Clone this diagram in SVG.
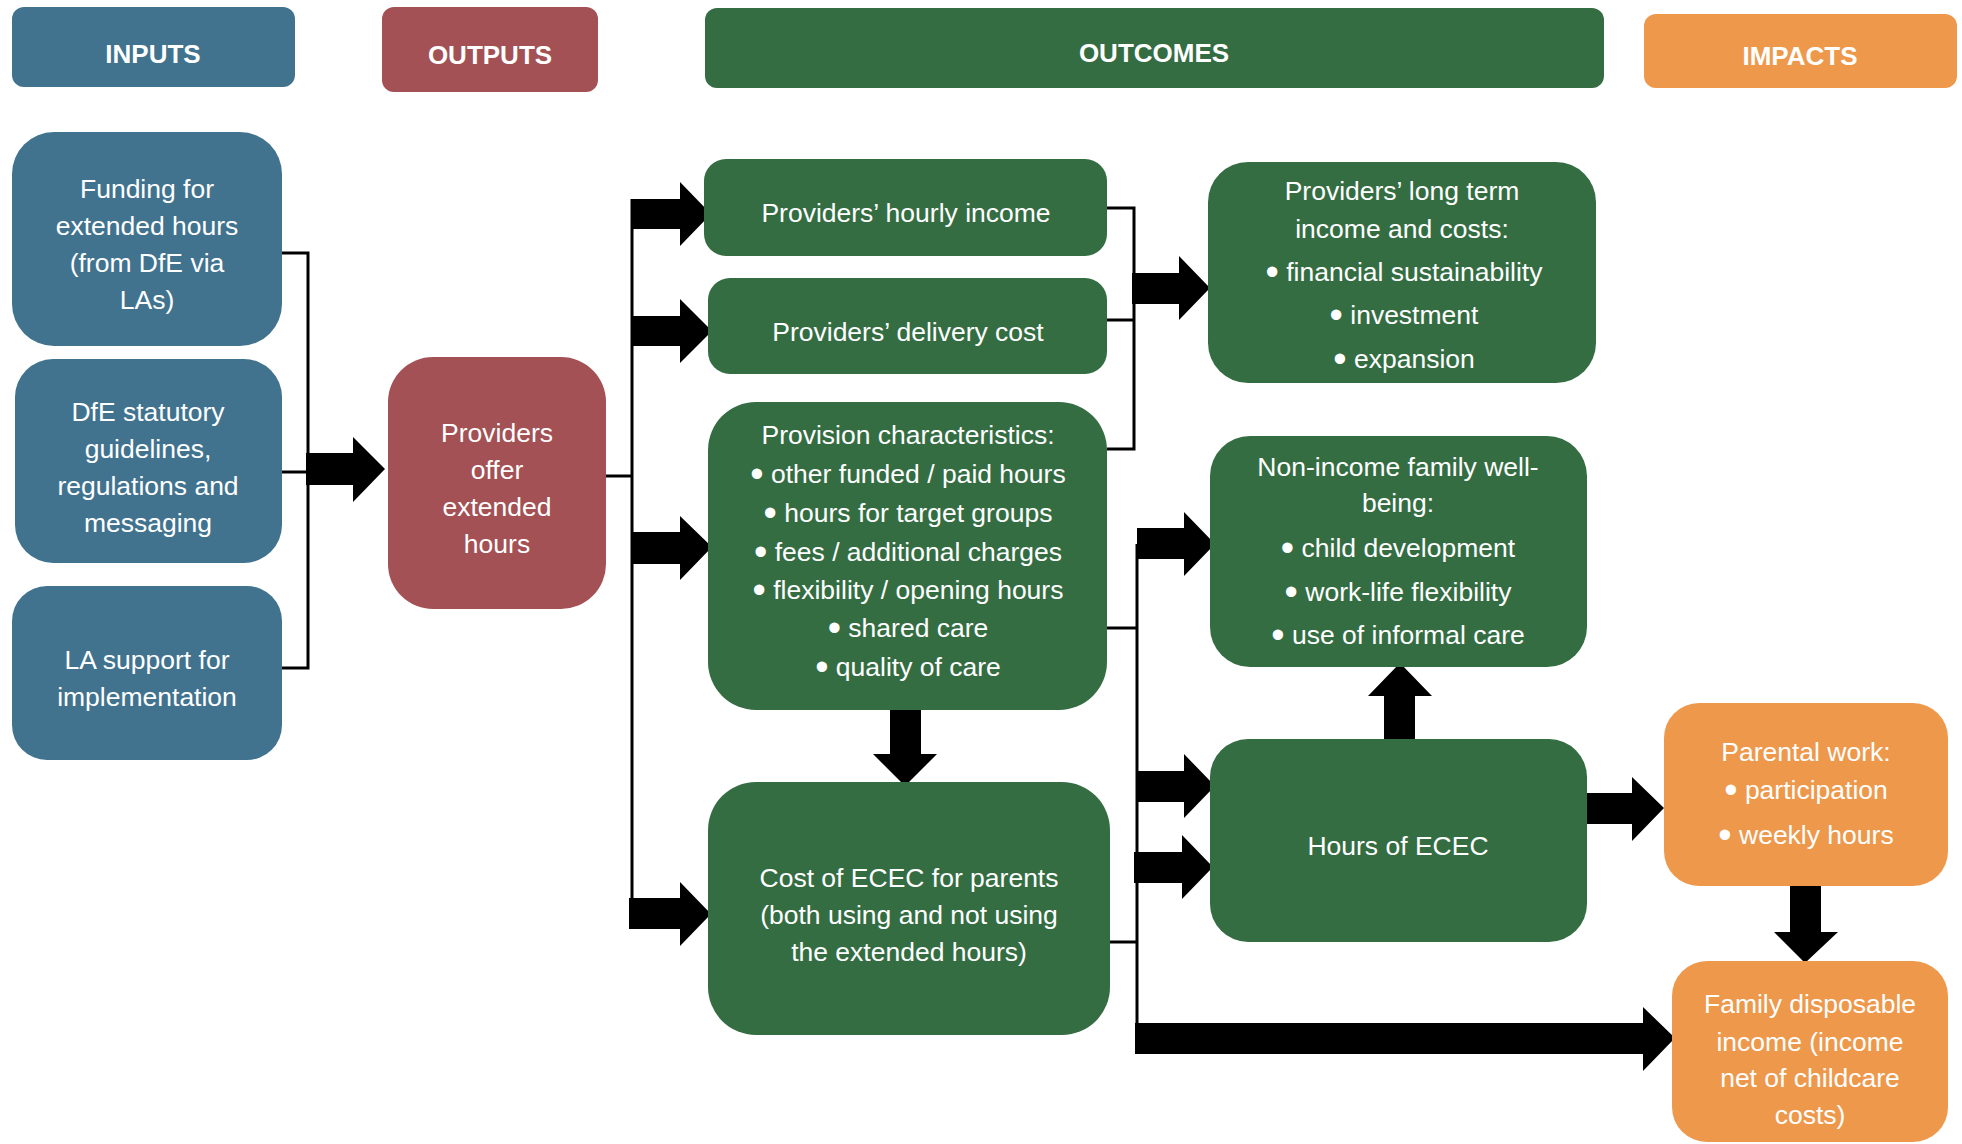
<svg xmlns="http://www.w3.org/2000/svg" width="1962" height="1144" viewBox="0 0 1962 1144">
<style>
.t{font-family:"Liberation Sans",Arial,sans-serif;font-size:26.5px;fill:#ffffff;text-anchor:middle}
.b{font-size:38px}
.h{font-family:"Liberation Sans",Arial,sans-serif;font-size:26px;font-weight:bold;fill:#ffffff;text-anchor:middle}
.blue{fill:#41738F}
.red{fill:#A35154}
.green{fill:#356D43}
.orange{fill:#EE984B}
.ln{stroke:#000;stroke-width:3;fill:none}
.ar{fill:#000}
</style>
<rect width="1962" height="1144" fill="#ffffff"/>
<g id="header-inputs"><rect class="blue" x="12" y="7" width="283" height="80" rx="12"/><text class="h" x="153" y="63">INPUTS</text></g>
<g id="header-outputs"><rect class="red" x="382" y="7" width="216" height="85" rx="12"/><text class="h" x="490" y="64">OUTPUTS</text></g>
<g id="header-outcomes"><rect class="green" x="705" y="8" width="899" height="80" rx="12"/><text class="h" x="1154" y="62">OUTCOMES</text></g>
<g id="header-impacts"><rect class="orange" x="1644" y="14" width="313" height="74" rx="12"/><text class="h" x="1800" y="65">IMPACTS</text></g>

<g id="connectors">
<polyline class="ln" points="282,253 308,253 308,668 282,668"/>
<line class="ln" x1="282" y1="472" x2="308" y2="472"/>
<line class="ln" x1="606" y1="476" x2="632" y2="476"/>
<line class="ln" x1="632" y1="199" x2="632" y2="929"/>
<polyline class="ln" points="1107,208 1134,208 1134,449 1107,449"/>
<line class="ln" x1="1107" y1="320" x2="1134" y2="320"/>
<line class="ln" x1="1137" y1="544" x2="1137" y2="1054"/>
<line class="ln" x1="1107" y1="628" x2="1137" y2="628"/>
<line class="ln" x1="1110" y1="942" x2="1137" y2="942"/>
<polygon class="ar" points="306,453 353,453 353,437 385,469 353,502 353,485 306,485"/>
<polygon class="ar" points="632,199 680,199 680,182 711,214 680,246 680,229 632,229"/>
<polygon class="ar" points="633,316 680,316 680,299 712,331 680,363 680,346 633,346"/>
<polygon class="ar" points="633,532 680,532 680,516 712,547 680,580 680,564 633,564"/>
<polygon class="ar" points="629,898 680,898 680,882 711,914 680,946 680,929 629,929"/>
<polygon class="ar" points="890,707 921,707 921,754 937,754 905,786 873,754 890,754"/>
<polygon class="ar" points="1132,273 1179,273 1179,256 1210,288 1179,320 1179,304 1132,304"/>
<polygon class="ar" points="1137,528 1184,528 1184,512 1215,544 1184,576 1184,559 1137,559"/>
<polygon class="ar" points="1137,771 1184,771 1184,754 1215,786 1184,818 1184,802 1137,802"/>
<polygon class="ar" points="1134,852 1182,852 1182,835 1213,867 1182,899 1182,883 1134,883"/>
<polygon class="ar" points="1384,742 1415,742 1415,696 1432,696 1400,663 1368,696 1384,696"/>
<polygon class="ar" points="1584,793 1632,793 1632,777 1664,808 1632,841 1632,824 1584,824"/>
<polygon class="ar" points="1790,886 1821,886 1821,932 1838,932 1805,963 1774,932 1790,932"/>
<polygon class="ar" points="1135,1023 1643,1023 1643,1007 1675,1038 1643,1071 1643,1054 1135,1054"/>
</g>

<g id="funding"><rect class="blue" x="12" y="132" width="270" height="214" rx="42"/>
<text class="t" x="147" y="198">Funding for</text><text class="t" x="147" y="235">extended hours</text><text class="t" x="147" y="272">(from DfE via</text><text class="t" x="147" y="309">LAs)</text></g>
<g id="dfe"><rect class="blue" x="15" y="359" width="267" height="204" rx="38"/>
<text class="t" x="148" y="421">DfE statutory</text><text class="t" x="148" y="458">guidelines,</text><text class="t" x="148" y="495">regulations and</text><text class="t" x="148" y="532">messaging</text></g>
<g id="la"><rect class="blue" x="12" y="586" width="270" height="174" rx="35"/>
<text class="t" x="147" y="669">LA support for</text><text class="t" x="147" y="706">implementation</text></g>
<g id="providers-offer"><rect class="red" x="388" y="357" width="218" height="252" rx="45"/>
<text class="t" x="497" y="442">Providers</text><text class="t" x="497" y="479">offer</text><text class="t" x="497" y="516">extended</text><text class="t" x="497" y="553">hours</text></g>
<g id="hourly-income"><rect class="green" x="704" y="159" width="403" height="97" rx="22"/>
<text class="t" x="906" y="222">Providers’ hourly income</text></g>
<g id="delivery-cost"><rect class="green" x="708" y="278" width="399" height="96" rx="22"/>
<text class="t" x="908" y="341">Providers’ delivery cost</text></g>
<g id="provision"><rect class="green" x="708" y="402" width="399" height="308" rx="48"/>
<text class="t" x="908" y="444">Provision characteristics:</text>
<text class="t" x="908" y="483"><tspan class="b" dy="3.5">•</tspan><tspan dy="-3.5"> other funded / paid hours</tspan></text>
<text class="t" x="908" y="522"><tspan class="b" dy="3.5">•</tspan><tspan dy="-3.5"> hours for target groups</tspan></text>
<text class="t" x="908" y="561"><tspan class="b" dy="3.5">•</tspan><tspan dy="-3.5"> fees / additional charges</tspan></text>
<text class="t" x="908" y="599"><tspan class="b" dy="3.5">•</tspan><tspan dy="-3.5"> flexibility / opening hours</tspan></text>
<text class="t" x="908" y="637"><tspan class="b" dy="3.5">•</tspan><tspan dy="-3.5"> shared care</tspan></text>
<text class="t" x="908" y="676"><tspan class="b" dy="3.5">•</tspan><tspan dy="-3.5"> quality of care</tspan></text></g>
<g id="cost"><rect class="green" x="708" y="782" width="402" height="253" rx="48"/>
<text class="t" x="909" y="887">Cost of ECEC for parents</text><text class="t" x="909" y="924">(both using and not using</text><text class="t" x="909" y="961">the extended hours)</text></g>
<g id="long-term"><rect class="green" x="1208" y="162" width="388" height="221" rx="40"/>
<text class="t" x="1402" y="200">Providers’ long term</text><text class="t" x="1402" y="238">income and costs:</text>
<text class="t" x="1404" y="281"><tspan class="b" dy="3.5">•</tspan><tspan dy="-3.5"> financial sustainability</tspan></text>
<text class="t" x="1404" y="324"><tspan class="b" dy="3.5">•</tspan><tspan dy="-3.5"> investment</tspan></text>
<text class="t" x="1404" y="368"><tspan class="b" dy="3.5">•</tspan><tspan dy="-3.5"> expansion</tspan></text></g>
<g id="non-income"><rect class="green" x="1210" y="436" width="377" height="231" rx="40"/>
<text class="t" x="1398" y="476">Non-income family well-</text><text class="t" x="1398" y="512">being:</text>
<text class="t" x="1398" y="557"><tspan class="b" dy="3.5">•</tspan><tspan dy="-3.5"> child development</tspan></text>
<text class="t" x="1398" y="601"><tspan class="b" dy="3.5">•</tspan><tspan dy="-3.5"> work-life flexibility</tspan></text>
<text class="t" x="1398" y="644"><tspan class="b" dy="3.5">•</tspan><tspan dy="-3.5"> use of informal care</tspan></text></g>
<g id="hours"><rect class="green" x="1210" y="739" width="377" height="203" rx="38"/>
<text class="t" x="1398" y="855">Hours of ECEC</text></g>
<g id="parental"><rect class="orange" x="1664" y="703" width="284" height="183" rx="35"/>
<text class="t" x="1806" y="761">Parental work:</text>
<text class="t" x="1806" y="799"><tspan class="b" dy="3.5">•</tspan><tspan dy="-3.5"> participation</tspan></text>
<text class="t" x="1806" y="844"><tspan class="b" dy="3.5">•</tspan><tspan dy="-3.5"> weekly hours</tspan></text></g>
<g id="family"><rect class="orange" x="1672" y="961" width="276" height="181" rx="35"/>
<text class="t" x="1810" y="1013">Family disposable</text><text class="t" x="1810" y="1051">income (income</text><text class="t" x="1810" y="1087">net of childcare</text><text class="t" x="1810" y="1124">costs)</text></g>
</svg>
